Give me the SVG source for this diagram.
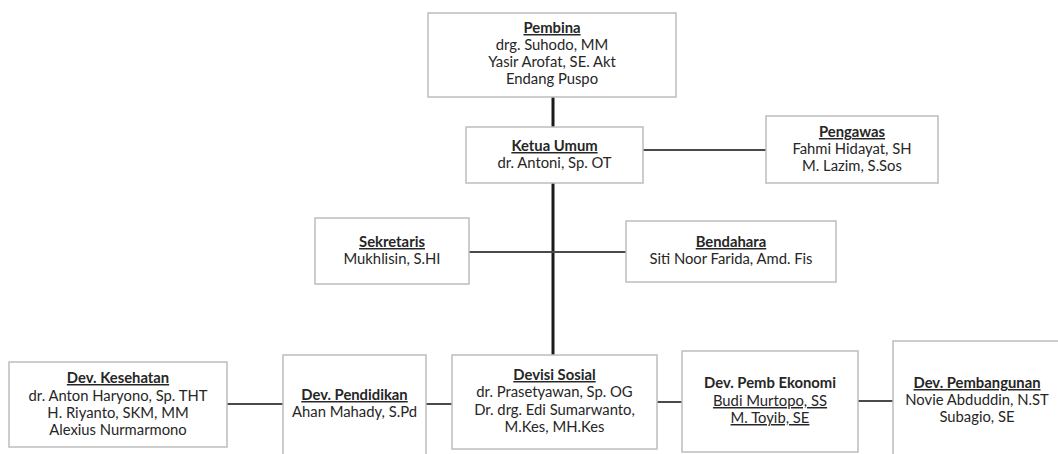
<svg xmlns="http://www.w3.org/2000/svg" width="1058" height="454" viewBox="0 0 1058 454">
<style>
.box{fill:#fff;stroke:#bdbdbd;stroke-width:1.5}
text{font-family:"Lato","Liberation Sans",sans-serif;font-size:14.8px;fill:#262626;text-anchor:middle}
.t{font-weight:bold;text-decoration:underline}
.b{font-weight:bold}
.u{text-decoration:underline}
.main{stroke:#1a1a1a;stroke-width:3;fill:none}
.h{stroke:#4a4a4a;stroke-width:2;fill:none}
</style>
<rect width="1058" height="454" fill="#fff"/>
<g id="connectors">
<line class="main" x1="553" y1="97" x2="553" y2="355"/>
<line class="h" x1="643" y1="150" x2="766" y2="150"/>
<line class="h" x1="469" y1="252" x2="626" y2="252"/>
<line class="h" x1="227" y1="404" x2="283" y2="404"/>
<line class="h" x1="426" y1="404" x2="452" y2="404"/>
<line class="h" x1="657" y1="402" x2="682" y2="402"/>
<line class="h" x1="858" y1="401" x2="893" y2="401"/>
</g>
<g id="pembina">
<rect class="box" x="428" y="13" width="248" height="84"/>
<text x="552" y="33" class="t">Pembina</text>
<text x="552" y="50">drg. Suhodo, MM</text>
<text x="552" y="67">Yasir Arofat, SE. Akt</text>
<text x="552" y="84">Endang Puspo</text>
</g>
<g id="ketua">
<rect class="box" x="466" y="127" width="177" height="56"/>
<text x="554.5" y="151" class="t">Ketua Umum</text>
<text x="554.5" y="168">dr. Antoni, Sp. OT</text>
</g>
<g id="pengawas">
<rect class="box" x="766" y="116" width="172" height="67"/>
<text x="852" y="137" class="t">Pengawas</text>
<text x="852" y="154">Fahmi Hidayat, SH</text>
<text x="852" y="171">M. Lazim, S.Sos</text>
</g>
<g id="sekretaris">
<rect class="box" x="315" y="218" width="154" height="66"/>
<text x="392" y="247" class="t">Sekretaris</text>
<text x="392" y="264">Mukhlisin, S.HI</text>
</g>
<g id="bendahara">
<rect class="box" x="626" y="221" width="210" height="61"/>
<text x="731" y="247" class="t">Bendahara</text>
<text x="731" y="264">Siti Noor Farida, Amd. Fis</text>
</g>
<g id="kesehatan">
<rect class="box" x="9" y="362" width="218" height="85"/>
<text x="118" y="383" class="t">Dev. Kesehatan</text>
<text x="118" y="401">dr. Anton Haryono, Sp. THT</text>
<text x="118" y="418">H. Riyanto, SKM, MM</text>
<text x="118" y="435">Alexius Nurmarmono</text>
</g>
<g id="pendidikan">
<rect class="box" x="283" y="355" width="143" height="110"/>
<text x="354.5" y="400" class="t">Dev. Pendidikan</text>
<text x="354.5" y="417">Ahan Mahady, S.Pd</text>
</g>
<g id="sosial">
<rect class="box" x="452" y="355" width="205" height="94"/>
<text x="554.5" y="380" class="t">Devisi Sosial</text>
<text x="554.5" y="397">dr. Prasetyawan, Sp. OG</text>
<text x="554.5" y="415">Dr. drg. Edi Sumarwanto,</text>
<text x="554.5" y="432">M.Kes, MH.Kes</text>
</g>
<g id="ekonomi">
<rect class="box" x="682" y="351" width="176" height="101"/>
<text x="770" y="388" class="b">Dev. Pemb Ekonomi</text>
<text x="770" y="406" class="u">Budi Murtopo, SS</text>
<text x="770" y="423" class="u">M. Toyib, SE</text>
</g>
<g id="pembangunan">
<rect class="box" x="893" y="341" width="168" height="125"/>
<text x="977" y="388" class="t">Dev. Pembangunan</text>
<text x="977" y="405">Novie Abduddin, N.ST</text>
<text x="977" y="422">Subagio, SE</text>
</g>
</svg>
